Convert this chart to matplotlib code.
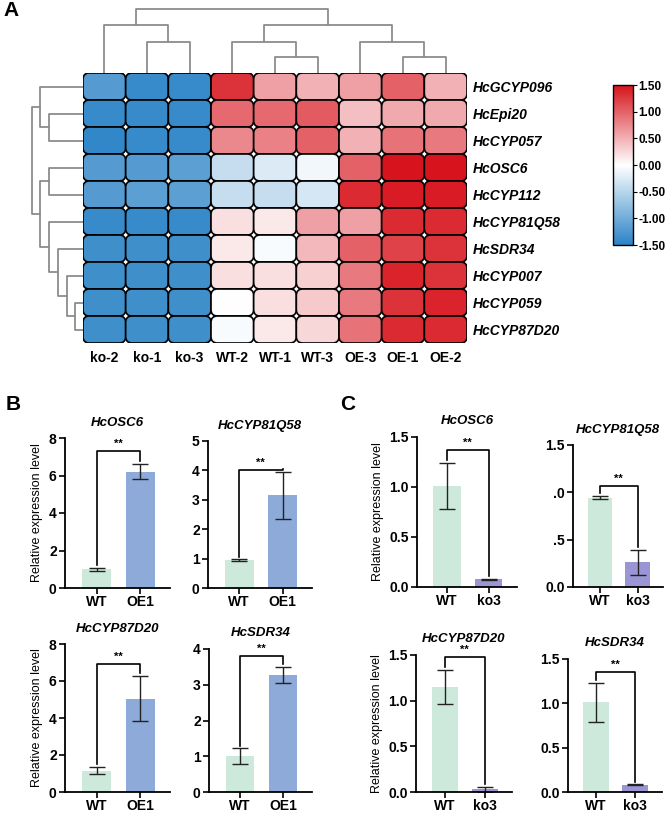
import matplotlib.pyplot as plt
import numpy as np
from matplotlib.colors import LinearSegmentedColormap, Normalize
from matplotlib.patches import FancyBboxPatch
import matplotlib.cm as cm

plt.rcParams['font.family'] = ['Liberation Sans', 'DejaVu Sans']
plt.rcParams['axes.unicode_minus'] = False

# ---- heatmap data (A) ----
genes = ['HcGCYP096', 'HcEpi20', 'HcCYP057', 'HcOSC6', 'HcCYP112',
         'HcCYP81Q58', 'HcSDR34', 'HcCYP007', 'HcCYP059', 'HcCYP87D20']
samples = ['ko-2', 'ko-1', 'ko-3', 'WT-2', 'WT-1', 'WT-3', 'OE-3', 'OE-1', 'OE-2']
expr = np.array([
    [-1.20, -1.40, -1.40, 1.30, 0.60, 0.50, 0.60, 1.00, 0.50],
    [-1.40, -1.40, -1.40, 0.95, 0.95, 1.05, 0.40, 0.55, 0.55],
    [-1.45, -1.40, -1.40, 0.75, 0.80, 1.00, 0.50, 0.90, 0.85],
    [-1.20, -1.20, -1.15, -0.40, -0.25, -0.10, 1.00, 1.50, 1.50],
    [-1.20, -1.15, -1.15, -0.40, -0.40, -0.30, 1.35, 1.45, 1.45],
    [-1.40, -1.40, -1.40, 0.20, 0.15, 0.60, 0.60, 1.35, 1.35],
    [-1.35, -1.35, -1.35, 0.15, -0.05, 0.45, 1.00, 1.20, 1.30],
    [-1.35, -1.35, -1.35, 0.20, 0.20, 0.30, 0.85, 1.40, 1.30],
    [-1.35, -1.35, -1.35, 0.00, 0.20, 0.35, 0.85, 1.30, 1.40],
    [-1.35, -1.35, -1.35, -0.05, 0.15, 0.25, 0.90, 1.35, 1.35],
])
# dendrograms: (child a, child b, height) like a linkage table
col_merges = [(1, 2, 31), (4, 5, 16), (7, 8, 16), (3, 10, 31), (6, 11, 31),
              (0, 9, 48), (12, 13, 48), (14, 15, 64)]
row_merges = [(8, 9, 8), (7, 10, 16), (6, 11, 25), (5, 12, 34), (3, 4, 34),
              (14, 13, 43), (1, 2, 34), (0, 16, 43), (17, 15, 51)]

# ---- qPCR data (B, C) ----
qgenes = ['HcOSC6', 'HcCYP81Q58', 'HcCYP87D20', 'HcSDR34']
b_groups = ['WT', 'OE1']
b_means = [[1.0, 6.2], [0.95, 3.15], [1.15, 5.05], [1.0, 3.27]]
b_errs = [[0.08, 0.4], [0.02, 0.8], [0.18, 1.22], [0.22, 0.22]]
b_ymax = [8, 5, 8, 4]
b_bracket = [7.3, 4.0, 6.9, 3.8]

c_groups = ['WT', 'ko3']
c_means = [[1.01, 0.08], [0.945, 0.26], [1.15, 0.03], [1.01, 0.08]]
c_errs = [[0.23, 0.005], [0.015, 0.135], [0.185, 0.025], [0.22, 0.005]]
c_ymax = [1.5, 1.5, 1.5, 1.5]
c_bracket = [1.37, 1.07, 1.48, 1.35]
c2_ticklabels = ['0.0', '.5', '.0', '1.5']

W, H = 669, 816
fig = plt.figure(figsize=(W / 100, H / 100), dpi=100)


def px_axes(x, y, w, h):
    return fig.add_axes([x / W, 1 - (y + h) / H, w / W, h / H])


def dendro(n, merges):
    pos = [i + 0.5 for i in range(n)]
    hgt = [0.0] * n
    segs = []
    for a, b, h in merges:
        segs.append(([pos[a], pos[a], pos[b], pos[b]], [hgt[a], h, h, hgt[b]]))
        pos.append((pos[a] + pos[b]) / 2)
        hgt.append(h)
    return segs


cmap = LinearSegmentedColormap.from_list('bwr_cust', ['#2b83c6', '#ffffff', '#d7141d'])
norm = Normalize(-1.5, 1.5)

# heatmap
hx, hy, hw, hh = 83, 73, 384, 270
ax = px_axes(hx, hy, hw, hh)
nr, nc = expr.shape
aspect = (hw / nc) / (hh / nr)
for i in range(nr):
    for j in range(nc):
        ax.add_patch(FancyBboxPatch((j, i), 1, 1,
                                    boxstyle='round,pad=0,rounding_size=0.15',
                                    mutation_aspect=aspect,
                                    facecolor=cmap(norm(expr[i, j])),
                                    edgecolor='black', lw=1.2))
ax.set_xlim(0, nc)
ax.set_ylim(nr, 0)
for s in ax.spines.values():
    s.set_visible(False)
ax.set_xticks(np.arange(nc) + 0.5)
ax.set_xticklabels(samples, fontsize=10, fontweight='bold')
ax.set_yticks(np.arange(nr) + 0.5)
ax.set_yticklabels(genes, fontsize=10, fontweight='bold', style='italic')
ax.yaxis.tick_right()
ax.tick_params(length=0, pad=6)
ax.tick_params(axis='y', pad=4)

# top dendrogram
axt = px_axes(hx, 5, hw, 68)
for xs, ys in dendro(nc, col_merges):
    axt.plot(xs, ys, color='#8c8c8c', lw=1.3)
axt.set_xlim(0, nc)
axt.set_ylim(0, 68)
axt.axis('off')

# left dendrogram
axl = px_axes(25, hy, hx - 25, hh)
for xs, ys in dendro(nr, row_merges):
    axl.plot(ys, xs, color='#8c8c8c', lw=1.3)
axl.set_xlim(hx - 25, 0)
axl.set_ylim(nr, 0)
axl.axis('off')

# colorbar
cax = px_axes(613, 85, 20, 160)
cb = fig.colorbar(cm.ScalarMappable(norm=norm, cmap=cmap), cax=cax,
                  ticks=[-1.5, -1.0, -0.5, 0, 0.5, 1.0, 1.5], format='%.2f')
cb.outline.set_linewidth(1.0)
cax.tick_params(labelsize=8.5, length=3, width=0.8, pad=1)
for t in cax.get_yticklabels():
    t.set_fontweight('bold')

# bar panels
bar_colors = {'WT': '#cde9dc', 'OE1': '#8eaad9', 'ko3': '#9a96d5'}


def bar_panel(rect, gene, groups, means, errs, ymax, yb, ylabel, ticklabels=None):
    a = px_axes(*rect)
    xs = np.arange(len(groups))
    a.bar(xs, means, width=0.66, color=[bar_colors[g] for g in groups])
    a.errorbar(xs, means, yerr=errs, fmt='none', ecolor='#222222',
               elinewidth=1.0, capsize=6, capthick=1.0)
    off = 0.02 * ymax
    tops = [m + e + off for m, e in zip(means, errs)]
    a.plot([0, 0, 1, 1], [tops[0], yb, yb, tops[1]], color='black', lw=1.2)
    a.text(0.5, yb + 0.015 * ymax, '**', ha='center', va='bottom',
           fontsize=8, fontweight='bold')
    a.set_xlim(-0.72, 1.68)
    a.set_ylim(0, ymax)
    yt = np.linspace(0, ymax, 4 if ymax == 1.5 else int(ymax / (2 if ymax == 8 else 1)) + 1)
    a.set_yticks(yt)
    if ticklabels is not None:
        a.set_yticklabels(ticklabels)
    elif ymax == 1.5:
        a.set_yticklabels(['%.1f' % v for v in yt])
    a.set_xticks(xs)
    a.set_xticklabels(groups, fontsize=10.5, fontweight='bold')
    a.spines[['top', 'right']].set_visible(False)
    a.spines[['left', 'bottom']].set_linewidth(1.3)
    a.tick_params(direction='out', length=4, width=1.2, labelsize=10, pad=2)
    a.tick_params(axis='x', pad=1)
    for t in a.get_yticklabels():
        t.set_fontweight('bold')
    a.set_title(gene, fontsize=9.5, style='italic', fontweight='semibold', pad=9)
    if ylabel:
        a.set_ylabel('Relative expression level', fontsize=9, labelpad=4)
    return a


b_rects = [(65, 438, 105, 150), (208, 441, 104, 147),
           (65, 644, 105, 148), (209, 649, 103, 143)]
c_rects = [(417, 437, 100, 150), (573, 445, 90, 142),
           (416, 655, 96, 137), (568, 659, 94, 133)]
for k in range(4):
    bar_panel(b_rects[k], qgenes[k], b_groups, b_means[k], b_errs[k],
              b_ymax[k], b_bracket[k], k % 2 == 0)
    bar_panel(c_rects[k], qgenes[k], c_groups, c_means[k], c_errs[k],
              c_ymax[k], c_bracket[k], k % 2 == 0,
              c2_ticklabels if k == 1 else None)

fig.text(3 / W, 1 - 10 / H, 'A', fontsize=15, fontweight='bold', va='center')
fig.text(6 / W, 1 - 404 / H, 'B', fontsize=15, fontweight='bold', va='center')
fig.text(340 / W, 1 - 404 / H, 'C', fontsize=15, fontweight='bold', va='center')

fig.savefig('out.png', dpi=100)
